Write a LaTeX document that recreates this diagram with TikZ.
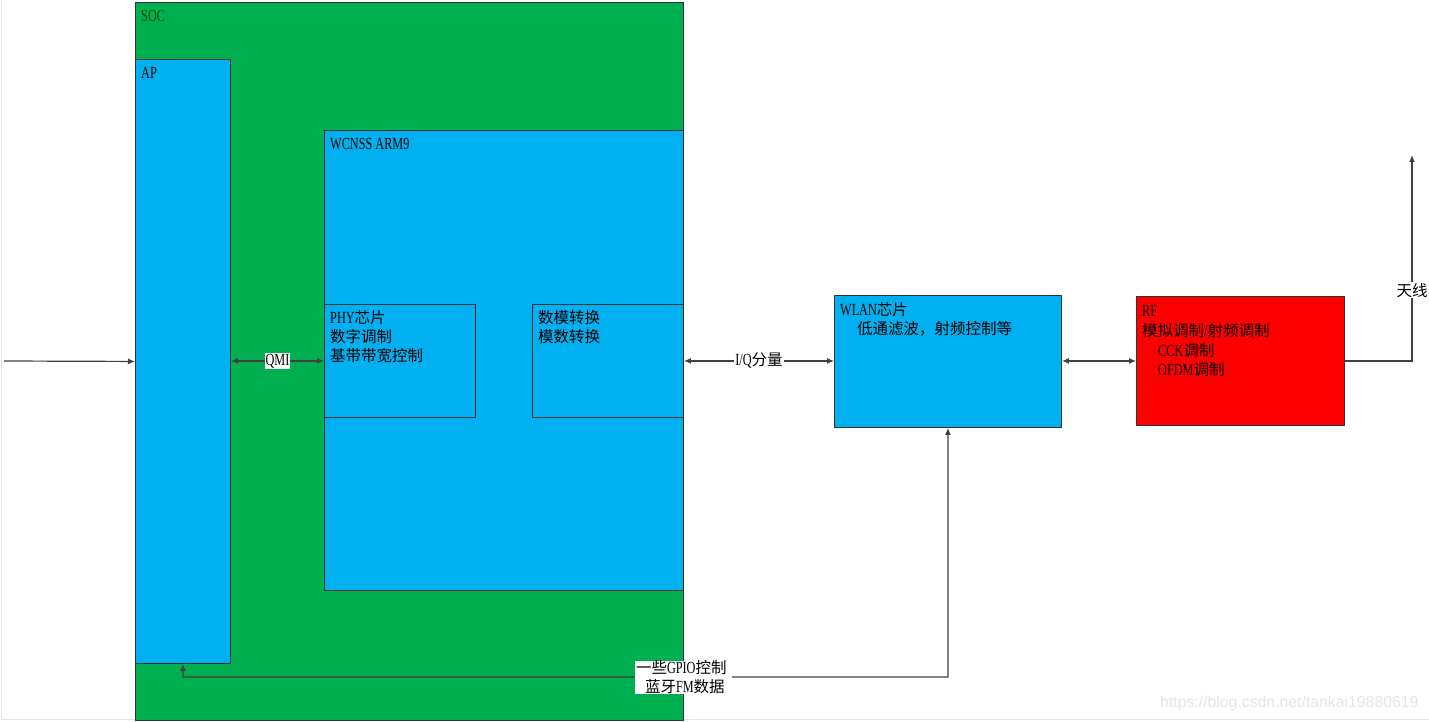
\documentclass[tikz,border=0pt]{standalone}
\usepackage{fontspec}
\setmainfont{Liberation Serif}[FakeStretch=0.72]
\newfontfamily\cjkfam{Noto Sans CJK SC}
\newfontfamily\wmfam{Liberation Sans}
\newcommand\zh[1]{{\cjkfam\fontsize{15.5}{19}\selectfont #1}}
\usetikzlibrary{arrows.meta}
\definecolor{socgreen}{HTML}{00B050}
\definecolor{chipblue}{HTML}{00B0F0}
\definecolor{rfred}{HTML}{FF0000}
\definecolor{edgegray}{HTML}{DDE5EE}
\tikzset{
  blk/.style={draw=black!80, line width=0.9pt, anchor=north west, inner sep=0pt},
  txt/.style={anchor=base west, inner sep=0pt, font=\fontsize{17}{19}\selectfont},
  conn/.style={draw=black!75, line width=1.2pt},
  tip/.style={-{Latex[length=7pt,width=6pt]}},
  tips/.style={{Latex[length=7pt,width=6pt]}-{Latex[length=7pt,width=6pt]}},
  lbl/.style={fill=white, inner sep=1pt, font=\fontsize{17}{19}\selectfont}
}
\begin{document}
\begin{tikzpicture}[x=1pt,y=-1pt]
\useasboundingbox (0,0) rectangle (1429,722);
\draw[edgegray, line width=1pt] (1,0) -- (1,719.5) -- (1429,719.5);
% boxes
\node[blk, fill=socgreen, minimum width=548pt, minimum height=718pt] (soc) at (135,2) {};
\node[blk, fill=chipblue, minimum width=95pt, minimum height=604pt] (ap) at (135,59) {};
\node[blk, fill=chipblue, minimum width=359pt, minimum height=460pt] (wcnss) at (324,130) {};
\node[blk, fill=chipblue, minimum width=151pt, minimum height=113pt] (phy) at (324,304) {};
\node[blk, fill=chipblue, minimum width=151pt, minimum height=113pt] (da) at (532,304) {};
\node[blk, fill=chipblue, minimum width=227pt, minimum height=132pt] (wlan) at (834,295) {};
\node[blk, fill=rfred, minimum width=208pt, minimum height=129pt] (rf) at (1136,296) {};
% texts
\node[txt, text=black!70!green] (tsoc) at (141,22) {SOC};
\node[txt] (tap) at (141,79) {AP};
\node[txt] (twc) at (330,150) {WCNSS ARM9};
\node[txt] (tphy1) at (330,323) {PHY\zh{芯片}};
\node[txt] (tphy2) at (330,342) {\zh{数字调制}};
\node[txt] (tphy3) at (330,361) {\zh{基带带宽控制}};
\node[txt] (tda1) at (538,323) {\zh{数模转换}};
\node[txt] (tda2) at (538,342) {\zh{模数转换}};
\node[txt] (twl1) at (840,315) {WLAN\zh{芯片}};
\node[txt] (twl2) at (857,334) {\zh{低通滤波，射频控制等}};
\node[txt] (trf1) at (1142,316) {RF};
\node[txt] (trf2) at (1142,336) {\zh{模拟调制}/\zh{射频调制}};
\node[txt] (trf3) at (1158,356) {CCK\zh{调制}};
\node[txt] (trf4) at (1158,375) {OFDM\zh{调制}};
% connectors
\coordinate (in) at (4,361);
\draw[conn, tip] (in) -- (ap.west);
\draw[conn, tips] (ap.east |- phy.west) -- node[lbl] (qmi) {QMI} (phy.west);
\draw[conn, tips] (da.east) -- node[lbl] (iq) {I/Q\zh{分量}} (wlan.west |- da.east);
\draw[conn, tips] (wlan.east |- rf.west) -- (rf.west);
\coordinate (ant) at (1412,155);
\draw[conn, tip] (rf.east) -| node[lbl, pos=0.672] (tant) {\zh{天线}} (ant);
\coordinate (bend) at (183,677);
\draw[conn, tips] (ap.south) -- (bend) -| (wlan.south);
\node[lbl, inner sep=0pt, align=left, minimum width=97pt, text width=95pt] (gpio) at (683.5,677.5) {\zh{一些}GPIO\zh{控制}\\\hspace*{9pt}\zh{蓝牙}FM\zh{数据}};
\node[anchor=base west, inner sep=0pt, text=black!10, font=\wmfam\fontsize{15.8}{18}\selectfont] (wm) at (1160,707) {https://blog.csdn.net/tankai19880619};
\end{tikzpicture}
\end{document}
